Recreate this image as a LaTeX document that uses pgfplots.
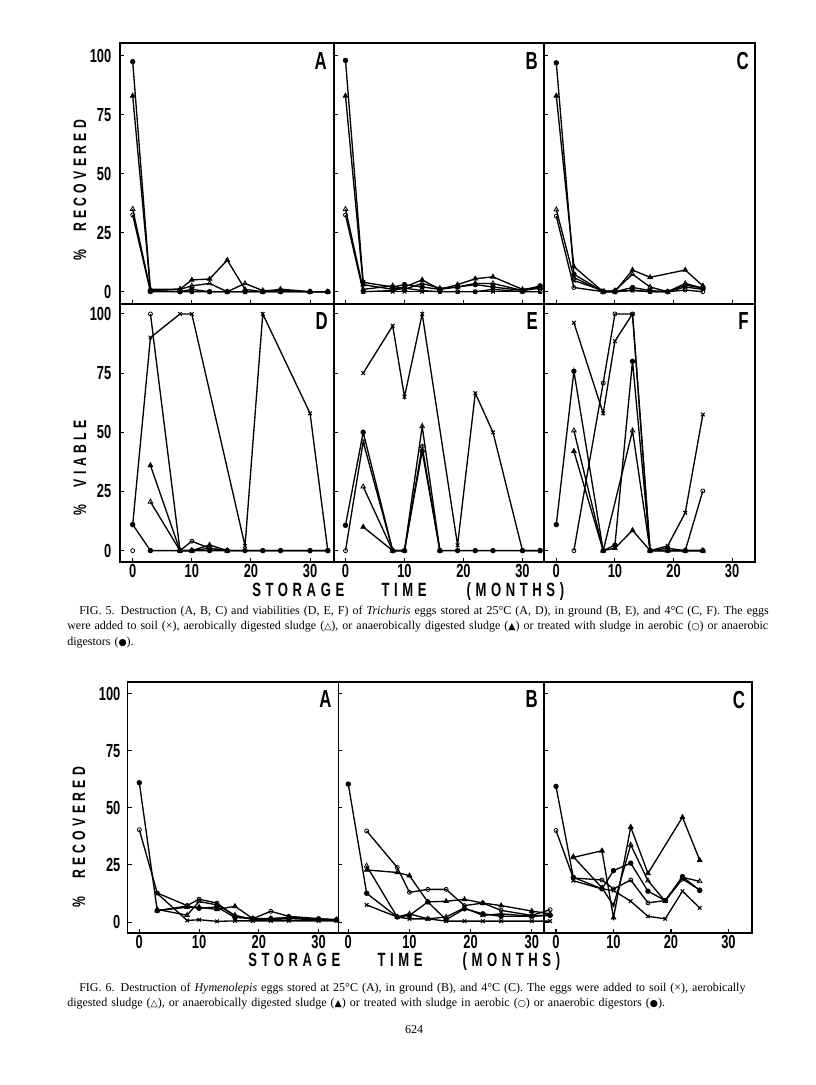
\documentclass[border=0pt]{standalone}
\usepackage{fontspec}
\setmainfont{Liberation Serif}
\newfontfamily\cond{Liberation Sans}[FakeStretch=0.68]
\newfontfamily\condls{Liberation Sans}[FakeStretch=0.68, LetterSpace=24]
\newfontfamily\symf{DejaVu Sans}
\usepackage{pgfplots}
\pgfplotsset{compat=1.18}
\pgfplotsset{
  panel/.style={scale only axis, anchor=south west,
    axis line style={line width=1pt},
    xtick={0,10,20,30}, ytick={0,25,50,75,100},
    tick align=inside, xtick pos=bottom, ytick pos=left,
    major tick length=3pt, tick style={line width=0.8pt, black},
    /pgf/number format/assume math mode=true,
    ticklabel style={font=\cond\bfseries\fontsize{14.2}{15}\selectfont},
    yticklabel style={xshift=-3pt},
    xticklabel style={yshift=2pt},
    clip=false},
  nox/.style={xticklabels={}},
  noy/.style={yticklabels={}},
  pSoil/.style={black, line width=1pt, mark=x, mark size=1.9pt, mark options={line width=0.8pt}},
  pAT/.style={black, line width=1pt, mark=triangle, mark size=2pt, mark options={fill=white, line width=0.6pt}},
  pAnT/.style={black, line width=1pt, mark=triangle*, mark size=2pt, mark options={fill=black, line width=0.6pt}},
  pAO/.style={black, line width=1pt, mark=o, mark size=1.5pt, mark options={fill=white, line width=0.6pt}},
  pAnO/.style={black, line width=1pt, mark=*, mark size=1.5pt, mark options={fill=black}},
}
\tikzset{plet/.style={anchor=north east, inner sep=0pt, font=\cond\bfseries\fontsize{18.5}{19}\selectfont}}
\newcommand\sym[1]{{\symf\fontsize{7}{8}\selectfont #1}}
\begin{document}
\begin{tikzpicture}
\path[use as bounding box] (0pt,0pt) rectangle (612pt,813.75pt);

% ===== FIG 5, top row =====
\begin{axis}[panel, nox, at={(90pt,585.75pt)}, width=160.5pt, height=195.75pt,
  xmin=-2.15, xmax=34.05, ymin=-5.2, ymax=105.4]
\addplot[pSoil] coordinates {(3,0)(8,0)(10,0)(13,0)(16,0)(19,0)(22,0)(25,0)(30,0)(33,0)};
\addplot[pAO] coordinates {(0,32.5)(3,0)(8,0)(10,0)(13,0)(16,0)(19,0)(22,0)(25,0)(30,0)(33,0)};
\addplot[pAT] coordinates {(0,35)(3,0.5)(8,1)(10,2.5)(13,3.5)(16,0)(19,3.5)(22,0.5)(25,0.5)(30,0)(33,0)};
\addplot[pAnT] coordinates {(0,83)(3,1)(8,1.1)(10,5)(13,5.4)(16,13.4)(19,1)(22,0)(25,1.1)(30,0)(33,0)};
\addplot[pAnO] coordinates {(0,97.5)(3,0.5)(8,0)(10,1)(13,0)(16,0)(19,0)(22,0)(25,0)(30,0)(33,0)};
\node[plet, xshift=-5.3pt, yshift=-6.8pt] at (rel axis cs:1,1) {A};
\end{axis}

\begin{axis}[panel, nox, noy, at={(250.5pt,585.75pt)}, width=157.5pt, height=195.75pt,
  xmin=-1.95, xmax=33.65, ymin=-5.2, ymax=105.4]
\addplot[pSoil] coordinates {(3,0)(8,0)(10,0)(13,0)(16,0)(19,0)(22,0)(25,0)(30,0)(33,0)};
\addplot[pAO] coordinates {(0,32.5)(3,0)(8,0.5)(10,1.5)(13,0.5)(16,0)(19,0)(22,0)(25,1)(30,0)(33,0)};
\addplot[pAT] coordinates {(0,35)(3,1)(8,2.5)(10,1)(13,3.5)(16,1.5)(19,2)(22,3.5)(25,3.5)(30,0.5)(33,1.5)};
\addplot[pAnT] coordinates {(0,83)(3,3)(8,1)(10,2)(13,5)(16,1)(19,3)(22,5.5)(25,6.3)(30,1)(33,2)};
\addplot[pAnO] coordinates {(0,98)(3,4)(8,2)(10,3)(13,2)(16,1)(19,2)(22,3)(25,2)(30,0.5)(33,2.5)};
\node[plet, xshift=-4.5pt, yshift=-6.8pt] at (rel axis cs:1,1) {B};
\end{axis}

\begin{axis}[panel, nox, noy, at={(408pt,585.75pt)}, width=158.25pt, height=195.75pt,
  xmin=-2.1, xmax=33.9, ymin=-5.2, ymax=105.4]
\addplot[pSoil] coordinates {(3,4.7)(8,0.5)(10,0)(13,0.5)(16,0)(19,0)(22,2)(25,1)};
\addplot[pAO] coordinates {(0,32)(3,1.8)(8,0)(10,0)(13,0.7)(16,0)(19,0)(22,0.7)(25,0)};
\addplot[pAT] coordinates {(0,34.8)(3,6)(8,0)(10,0.5)(13,7.4)(16,2)(19,0)(22,3.5)(25,1.5)};
\addplot[pAnT] coordinates {(0,83)(3,10.6)(8,0)(10,0)(13,9.2)(16,6.1)(22,9.2)(25,2.5)};
\addplot[pAnO] coordinates {(0,97)(3,7.4)(8,0)(10,0)(13,1.8)(16,0.5)(19,0)(22,2.8)(25,1.5)};
\node[plet, xshift=-4.5pt, yshift=-6.8pt] at (rel axis cs:1,1) {C};
\end{axis}

% ===== FIG 5, bottom row =====
\begin{axis}[panel, at={(90pt,392.25pt)}, width=160.5pt, height=193.5pt,
  xmin=-2.15, xmax=34.05, ymin=-4.8, ymax=104.2]
\addplot[pSoil] coordinates {(0,11)(3,90)(8,100)(10,100)(19,2)(22,100)(30,58)(33,0)};
\addplot[pAO] coordinates {(3,100)(8,0)(10,4)(13,1)(16,0)(19,0)(22,0)(25,0)(30,0)(33,0)};
\addplot[pAO, only marks] coordinates {(0,0)};
\addplot[pAT] coordinates {(3,20.6)(8,0)(10,0)(13,1)(16,0)};
\addplot[pAnT] coordinates {(3,36)(8,0)(10,0)(13,2.4)(16,0)};
\addplot[pAnO] coordinates {(0,11)(3,0)(8,0)(10,0)(13,0)(16,0)(19,0)(22,0)(25,0)(30,0)(33,0)};
\node[plet, xshift=-4.5pt, yshift=-6pt] at (rel axis cs:1,1) {D};
\end{axis}

\begin{axis}[panel, noy, at={(250.5pt,392.25pt)}, width=157.5pt, height=193.5pt,
  xmin=-1.95, xmax=33.65, ymin=-4.8, ymax=104.2]
\addplot[pSoil] coordinates {(3,75)(8,95)(10,65)(13,100)(19,2.3)(22,66.5)(25,50)(30,0)(33,0)};
\addplot[pAO] coordinates {(0,0)(3,46)(8,0)(10,0)(13,44)(16,0)};
\addplot[pAT] coordinates {(3,27)(8,0)(10,0)(13,52.5)(16,0)};
\addplot[pAnT] coordinates {(3,10)(8,0)};
\addplot[pAnO] coordinates {(0,10.7)(3,50)(8,0)(10,0)(13,42)(16,0)(19,0)(22,0)(25,0)(30,0)(33,0)};
\node[plet, xshift=-4.5pt, yshift=-6pt] at (rel axis cs:1,1) {E};
\end{axis}

\begin{axis}[panel, noy, at={(408pt,392.25pt)}, width=158.25pt, height=193.5pt,
  xmin=-2.1, xmax=33.9, ymin=-4.8, ymax=104.2]
\addplot[pSoil] coordinates {(3,96.3)(8,58)(10,88.5)(13,100)(16,0)(19,2)(22,16)(25,57.5)};
\addplot[pAO] coordinates {(3,0)(8,70.8)(10,100)(13,100)(16,0)(19,0)(22,0)(25,25.2)};
\addplot[pAT] coordinates {(3,50.7)(8,0)(13,50.7)(16,0)(19,0)(22,0)(25,0)};
\addplot[pAnT] coordinates {(3,42)(8,0)(10,1)(13,8.6)(16,0)(19,0)(22,0)(25,0)};
\addplot[pAnO] coordinates {(0,11)(3,75.8)(8,0)(10,2.3)(13,80)(16,0)(19,1)(22,0)(25,0)};
\node[plet, xshift=-4.5pt, yshift=-6pt] at (rel axis cs:1,1) {F};
\end{axis}

% ===== FIG 6 =====
\begin{axis}[panel, at={(95.8pt,114pt)}, width=157.95pt, height=188.25pt,
  xmin=-1.94, xmax=33.3, ymin=-4.8, ymax=105.1, yticklabel style={xshift=1pt}]
\addplot[pSoil] coordinates {(3,12.5)(8,0.7)(10,1)(13,0.3)(16,0.5)(19,0.5)(22,0.5)(25,0.5)(30,0.5)(33,0.5)};
\addplot[pAO] coordinates {(0,40.4)(3,12.7)(8,7.2)(10,10)(13,8.3)(16,2.5)(19,1.5)(22,4.7)(25,2.5)(30,1.5)(33,1)};
\addplot[pAT] coordinates {(3,5.5)(8,3)(10,9)(13,7.5)(16,3)(19,1)(22,1.5)(25,1.8)(30,1.2)(33,1)};
\addplot[pAnT] coordinates {(3,5)(8,6.5)(10,6.5)(13,5.5)(16,6.9)(19,1.5)(22,1)(25,1.5)(30,1)(33,1)};
\addplot[pAnO] coordinates {(0,61)(3,5)(8,7)(10,6)(13,6.6)(16,2)(19,1.5)(22,1.5)(25,2)(30,1.3)(33,1)};
\node[plet, xshift=-5pt, yshift=-6.5pt] at (rel axis cs:1,1) {A};
\end{axis}

\begin{axis}[panel, noy, at={(253.7pt,114pt)}, width=154.3pt, height=188.25pt,
  xmin=-1.64, xmax=32.0, ymin=-4.8, ymax=105.1]
\addplot[pSoil] coordinates {(3,7.5)(8,2.2)(10,1.4)(13,1.4)(16,0.4)(19,0.4)(22,0.4)(25,0.4)(30,0.4)(33,0.4)};
\addplot[pAO] coordinates {(3,39.9)(8,23.9)(10,13)(13,14.3)(16,14.3)(19,7.2)(22,8.3)(25,5.1)(30,2.9)(33,5.4)};
\addplot[pAT] coordinates {(3,24.6)(8,2.2)(10,3.6)(13,1.4)(16,2.2)(19,6.2)(22,2.9)(25,3.6)(30,2.5)(33,3.3)};
\addplot[pAnT] coordinates {(3,22.8)(8,21.7)(10,20.3)(13,8.8)(16,9.1)(19,9.9)(22,8.3)(25,7.2)(30,4.8)(33,3.6)};
\addplot[pAnO] coordinates {(0,60.4)(3,12.6)(8,2.2)(10,2.9)(13,8.8)(16,1)(19,5.8)(22,3.6)(25,2.5)(30,2.5)(33,2.9)};
\node[plet, xshift=-4.5pt, yshift=-6.5pt] at (rel axis cs:1,1) {B};
\end{axis}

\begin{axis}[panel, noy, at={(408pt,114pt)}, width=156pt, height=188.25pt,
  xmin=-2.09, xmax=34.1, ymin=-4.8, ymax=105.1]
\addplot[pSoil] coordinates {(3,18.1)(8,14.5)(10,13.8)(13,9.1)(16,2.5)(19,1.4)(22,13.5)(25,6.2)};
\addplot[pAO] coordinates {(0,40.1)(3,19.3)(8,18.4)(10,14.5)(13,18.4)(16,8.4)(19,9.4)(22,18.8)(25,14.1)};
\addplot[pAT] coordinates {(3,28.6)(8,15)(10,7.2)(13,33.8)(16,18.1)(19,9.1)(22,19.6)(25,17.8)};
\addplot[pAnT] coordinates {(3,28.3)(8,31.2)(10,1.9)(13,41.6)(16,21.3)(22,45.9)(25,27.1)};
\addplot[pAnO] coordinates {(0,59.4)(3,19.6)(8,14.5)(10,22.5)(13,25.8)(16,13.5)(19,9.4)(22,19.9)(25,13.8)};
\node[plet, xshift=-5pt, yshift=-6.5pt] at (rel axis cs:1,1) {C};
\end{axis}

% ===== axis titles =====
\node[rotate=90, inner sep=0pt, font=\condls\bfseries\fontsize{13.5}{14}\selectfont] at (60pt,671.25pt) {\%\hspace{13pt}RECOVERED};
\node[rotate=90, inner sep=0pt, font=\condls\bfseries\fontsize{13.5}{14}\selectfont] at (60pt,462.75pt) {\%\hspace{13pt}VIABLE};
\node[rotate=90, inner sep=0pt, font=\condls\bfseries\fontsize{13.5}{14}\selectfont] at (59.25pt,186pt) {\%\hspace{13pt}RECOVERED};
\node[anchor=west, inner sep=0pt, font=\condls\bfseries\fontsize{14.4}{15}\selectfont] at (189pt,369.75pt) {STORAGE\hspace{28pt}TIME\hspace{30pt}(MONTHS)};
\node[anchor=west, inner sep=0pt, font=\condls\bfseries\fontsize{14.4}{15}\selectfont] at (186pt,92.25pt) {STORAGE\hspace{28pt}TIME\hspace{30pt}(MONTHS)};

% ===== captions =====
\node[anchor=north west, inner sep=0pt, text width=525pt, font=\fontsize{9}{11.4}\selectfont] at (50.25pt,359.25pt) {%
\hbox to 525pt{\hspace{9pt}FIG. 5. Destruction (A, B, C) and viabilities (D, E, F) of \textit{Trichuris} eggs stored at 25°C (A, D), in ground (B, E), and 4°C (C, F). The eggs}\par
\hbox to 525pt{were added to soil (×), aerobically digested sludge (\sym{△}), or anaerobically digested sludge (\sym{▲}) or treated with sludge in aerobic (\sym{○}) or anaerobic}\par
\hbox{digestors (\sym{●}).}};

\node[anchor=north west, inner sep=0pt, text width=525pt, font=\fontsize{9}{11.4}\selectfont] at (50.25pt,76.5pt) {%
\hbox to 525pt{\hspace{9pt}FIG. 6. Destruction of \textit{Hymenolepis} eggs stored at 25°C (A), in ground (B), and 4°C (C). The eggs were added to soil (×), aerobically}\par
\hbox{digested sludge (\sym{△}), or anaerobically digested sludge (\sym{▲}) or treated with sludge in aerobic (\sym{○}) or anaerobic digestors (\sym{●}).}};

\node[inner sep=0pt, font=\fontsize{9}{11}\selectfont] at (310.5pt,41.25pt) {624};
\end{tikzpicture}
\end{document}
